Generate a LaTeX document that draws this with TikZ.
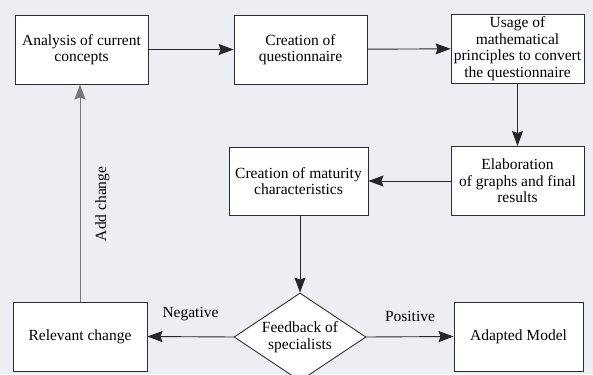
\documentclass[tikz,border=0pt]{standalone}
\usepackage{fontspec}
\setmainfont{Liberation Serif}
\usetikzlibrary{shapes.geometric,arrows.meta}

\definecolor{bgcol}{RGB}{237,238,243}
\definecolor{boxline}{RGB}{45,45,45}
\definecolor{backline}{RGB}{120,120,120}

\tikzset{
  stepbox/.style={draw=boxline, fill=white, line width=0.9pt, align=center,
    minimum width=133pt, minimum height=69pt, inner sep=1pt,
    font=\fontsize{15.5pt}{16.5pt}\selectfont},
  askbox/.style={stepbox, shape=diamond, aspect=1.5,
    minimum width=132pt, minimum height=88pt},
  flow/.style={draw=black!85, line width=0.9pt,
    -{Stealth[length=15pt,width=11pt,inset=2pt]}},
  tag/.style={font=\fontsize{15.5pt}{16.5pt}\selectfont, inner sep=0pt}
}

\begin{document}
\begin{tikzpicture}[x=1pt, y=-1pt]
  \useasboundingbox (0,0) rectangle (593,374);
  \clip (0,0) rectangle (593,374);
  \fill[bgcol] (0,0) rectangle (593,374);

  \node[stepbox] (analysis) at (81.5, 49.5) {Analysis of current\\concepts};
  \node[stepbox] (questionnaire) at (300.5, 49.5) {Creation of\\questionnaire};
  \node[stepbox] (usage) at (517.5, 48.5) {Usage of\\mathematical\\principles to convert\\the questionnaire};
  \node[stepbox] (graphs) at (517.5, 181) {Elaboration\\of graphs and final\\results};
  \node[stepbox, minimum width=139pt, minimum height=68pt] (maturity) at (298.5, 181) {Creation of maturity\\characteristics};

  \node[askbox] (feedback) at (300, 337) {Feedback of\\specialists};
  \node[stepbox, minimum width=134pt] (relevant) at (80, 336.5) {Relevant change};
  \node[stepbox, minimum width=129pt] (adapted) at (518.5, 336.5) {Adapted Model};

  \draw[flow] (analysis) -- (questionnaire);
  \draw[flow] (questionnaire) -- (usage);
  \draw[flow] (usage) -- (graphs);
  \draw[flow] (graphs) -- (maturity);
  \draw[flow] (maturity.south -| feedback.north) -- (feedback.north);

  \draw[flow] (feedback.west) -- (relevant.east)
    node[tag, pos=0.5, above=15pt] (negative) {Negative};
  \draw[flow] (feedback.east) -- (adapted.west)
    node[tag, pos=0.5, above=15pt] (positive) {Positive};

  \draw[flow, draw=backline] (relevant.north) -- (relevant.north |- analysis.south)
    node[tag, pos=0.45, rotate=90, below=15pt] (addchange) {Add change};

\end{tikzpicture}
\end{document}
